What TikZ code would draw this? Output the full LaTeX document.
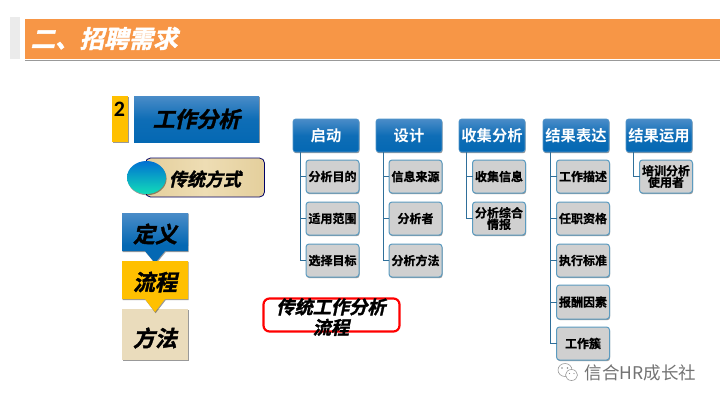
\documentclass[tikz,border=0pt]{standalone}
\usepackage{fontspec}
\usetikzlibrary{shadows,shapes.geometric,calc}
\newfontfamily\cjk{Noto Sans CJK SC}[BoldFont={Noto Sans CJK SC Bold}]
\newfontfamily\cjkit{Noto Sans CJK SC Bold}[FakeSlant=0.22,FakeBold=1.5]
\newfontfamily\cjkb{Noto Sans CJK SC Bold}[FakeBold=0.8]
\newfontfamily\latinb{Carlito Bold}
\definecolor{orangeH}{HTML}{F79646}
\definecolor{blueT}{HTML}{4A8CC8}
\definecolor{blueB}{HTML}{0468B3}
\definecolor{yel}{HTML}{FFC000}
\definecolor{tanbox}{HTML}{EADCBC}
\definecolor{papyrus}{HTML}{E4CF9C}
\definecolor{papyrusL}{HTML}{EEDDB4}
\definecolor{trunk}{HTML}{2F6F9A}
\definecolor{kid}{HTML}{D0D0D0}
\definecolor{kidb}{HTML}{5B9BC0}
\definecolor{ballT}{HTML}{0070D2}
\definecolor{ballB}{HTML}{12DDB8}
\tikzset{
  softshadow/.style={drop shadow={shadow xshift=0.6pt,shadow yshift=-1.2pt,opacity=0.4,fill=black}},
  bluegrad/.style={top color=blueT,bottom color=blueB,middle color=blueB!85!blueT},
  bigtext/.style={text=black,align=center},
  hdr/.style={rectangle,rounded corners=2.5pt,bluegrad,draw=blueB!70!white,line width=0.6pt,minimum width=66pt,minimum height=33pt,inner sep=0pt,outer sep=0pt,text=white,font=\cjk\bfseries\fontsize{15.3}{17}\selectfont,softshadow},
  kidbox/.style={rectangle,rounded corners=3pt,fill=kid,draw=kidb,line width=1pt,minimum width=53pt,minimum height=33pt,inner sep=0pt,outer sep=0pt,text=black,font=\cjkb\fontsize{12}{12.5}\selectfont,align=center,softshadow},
  branch/.style={draw=trunk,line width=1pt}
}
\begin{document}
\begin{tikzpicture}[x=1pt,y=-1pt]
\useasboundingbox (0,0) rectangle (720,405);
\fill[white] (0,0) rectangle (720,405);
% title band
\node[fill=black!8,inner sep=0pt,minimum width=10pt,minimum height=42pt] (tabg) at (15,38) {};
\node[fill=white,draw=none,inner sep=0pt,minimum width=698pt,minimum height=43pt,softshadow] (tabw) at (373,38.5) {};
\node[fill=orangeH,inner sep=0pt,minimum width=695pt,minimum height=40pt] (tabo) at (372.5,38.5) {};
\node[text=white,font=\cjkit\fontsize{24.5}{26}\selectfont,anchor=west,inner sep=0pt] (title) at (30.5,38.5) {二、招聘需求};
% heading
\node[fill=yel,inner sep=0pt,minimum width=16pt,minimum height=46pt,softshadow] (numbox) at (120,119) {};
\node[font=\latinb\fontsize{22}{24}\selectfont,inner sep=0pt] (num) at (119.5,109) {2};
\node[bluegrad,inner sep=0pt,minimum width=125pt,minimum height=46pt,softshadow,bigtext,font=\cjkit\fontsize{21.8}{24}\selectfont] (wa) at (196.5,119) {工作分析};
% traditional
\node[rectangle,rounded corners=5pt,left color=papyrus,right color=papyrus,middle color=papyrusL,draw=blue!40!black,line width=0.8pt,inner sep=0pt,minimum width=119pt,minimum height=39pt] (trad) at (205,177.5) {};
\node[ellipse,top color=ballT,bottom color=ballB,inner sep=0pt,minimum width=39pt,minimum height=33pt,softshadow] (ball) at (146.5,177.5) {};
\node[bigtext,font=\cjkit\fontsize{18}{20}\selectfont] (tradt) at (205,179) {传统方式};
% chain
\fill[tanbox,softshadow] (122,309) rectangle (188,360);
\fill[blueB,softshadow] (122,213) -- (188,213) -- (188,251) -- (165,251) -- (155,263) -- (145,251) -- (122,251) -- cycle;
\shade[top color=blueT,bottom color=blueB] (122,213) rectangle (188,245);
\node[bigtext,font=\cjkit\fontsize{22}{24}\selectfont,inner sep=0pt] (def) at (155,234) {定义};
\fill[yel,softshadow] (122,261) -- (188,261) -- (188,299) -- (165,299) -- (155,312) -- (145,299) -- (122,299) -- cycle;
\node[bigtext,font=\cjkit\fontsize{22}{24}\selectfont,inner sep=0pt] (flow) at (155,282) {流程};
\node[bigtext,font=\cjkit\fontsize{22}{24}\selectfont,inner sep=0pt] (meth) at (155,338) {方法};
% red box
\node[rectangle,rounded corners=6pt,draw=red,line width=2.2pt,fill=white,minimum width=136pt,minimum height=33pt,inner sep=0pt] (red) at (331.5,315) {};
\node[bigtext,font=\cjkit\fontsize{18.2}{20.5}\selectfont,inner sep=0pt] (redt) at (331,317) {传统工作分析\\流程};
% column 1
\node[hdr] (h1) at (326,135.5) {启动};
\node[kidbox] (a1) at (332.5,176.5) {分析目的};
\node[kidbox] (a2) at (332.5,218.5) {适用范围};
\node[kidbox] (a3) at (332.5,260.5) {选择目标};
\foreach \k in {a1,a2,a3}{\draw[branch] ([xshift=7pt]h1.south west) |- (\k.west);}
% column 2
\node[hdr] (h2) at (409,135.5) {设计};
\node[kidbox] (b1) at (415.5,176.5) {信息来源};
\node[kidbox] (b2) at (415.5,218.5) {分析者};
\node[kidbox] (b3) at (415.5,260.5) {分析方法};
\foreach \k in {b1,b2,b3}{\draw[branch] ([xshift=7pt]h2.south west) |- (\k.west);}
% column 3
\node[hdr] (h3) at (492,135.5) {收集分析};
\node[kidbox] (c1) at (499,176.5) {收集信息};
\node[kidbox] (c2) at (499,218.5) {分析综合\\[-1pt]情报};
\foreach \k in {c1,c2}{\draw[branch] ([xshift=7pt]h3.south west) |- (\k.west);}
% column 4
\node[hdr] (h4) at (576,135.5) {结果表达};
\node[kidbox] (d1) at (583,176.5) {工作描述};
\node[kidbox] (d2) at (583,218.5) {任职资格};
\node[kidbox] (d3) at (583,260.5) {执行标准};
\node[kidbox,minimum height=34pt] (d4) at (583,302) {报酬因素};
\node[kidbox] (d5) at (583,343.5) {工作簇};
\foreach \k in {d1,d2,d3,d4,d5}{\draw[branch] ([xshift=7pt]h4.south west) |- (\k.west);}
% column 5
\node[hdr] (h5) at (659,135.5) {结果运用};
\node[kidbox] (e1) at (666,176.5) {培训分析\\[-1pt]使用者};
\draw[branch] ([xshift=7pt]h5.south west) |- (e1.west);
% watermark
\draw[black!40,line width=0.6pt,fill=white] (565,370) ellipse (7pt and 6.5pt);
\draw[black!40,line width=0.6pt,fill=white] (571.5,375) ellipse (6pt and 5.5pt);
\fill[black!45] (562,368) circle (0.8pt) (567.5,368) circle (0.8pt) (569.5,373.5) circle (0.7pt) (574,373.5) circle (0.7pt);
\node[text=black!55,font=\cjk\fontsize{17.5}{19}\selectfont,anchor=west,inner sep=0pt] (wm) at (584.5,373) {信合HR成长社};
\end{tikzpicture}
\end{document}
